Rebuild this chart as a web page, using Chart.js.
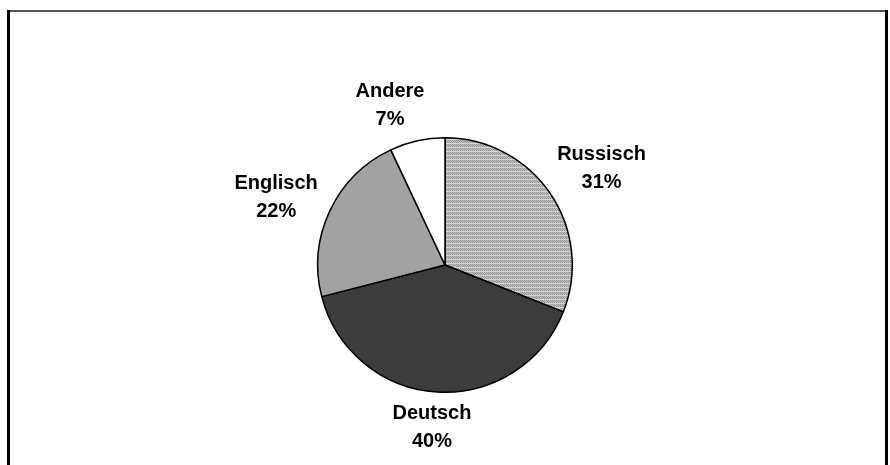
<!DOCTYPE html>
<html>
<head>
<meta charset="utf-8">
<script src="https://cdn.jsdelivr.net/npm/chart.js@4/dist/chart.umd.min.js"></script>
<style>
  html, body { margin: 0; padding: 0; background: #fff; }
  #wrap { width: 890px; height: 465px; }
</style>
</head>
<body>
<div id="wrap"><canvas id="pie" width="890" height="465"></canvas></div>
<script>
const labels = ['Russisch', 'Deutsch', 'Englisch', 'Andere']
const shares = [31, 40, 22, 7]

// fine dotted fill for the first slice
function dotPattern() {
    const c = document.createElement('canvas')
    c.width = 4
    c.height = 4
    const g = c.getContext('2d')
    g.fillStyle = '#c0c0c0'
    g.fillRect(0, 0, 4, 4)
    g.fillStyle = '#969696'
    g.fillRect(0, 0, 1, 1)
    g.fillRect(2, 0, 1, 1)
    g.fillRect(1, 1, 1, 1)
    g.fillRect(3, 1, 1, 1)
    g.fillRect(0, 2, 1, 1)
    g.fillRect(2, 2, 1, 1)
    g.fillStyle = '#d4d4d4'
    g.fillRect(0, 3, 4, 1)
    return g.createPattern(c, 'repeat')
}

const ctx = document.getElementById('pie').getContext('2d')
const fills = [dotPattern(), '#3c3c3c', '#a2a2a2', '#ffffff']

// frame around the whole figure
const framePlugin = {
    id: 'frame',
    beforeDraw(chart) {
        const c = chart.ctx
        c.save()
        c.strokeStyle = '#555'
        c.lineWidth = 2
        c.beginPath()
        c.moveTo(8, 11)
        c.lineTo(887, 11)
        c.stroke()
        c.strokeStyle = '#000'
        c.lineWidth = 3
        c.beginPath()
        c.moveTo(8.5, 10)
        c.lineTo(8.5, 470)
        c.moveTo(886.5, 10)
        c.lineTo(886.5, 470)
        c.stroke()
        c.restore()
    }
}

// name + percent outside each slice; small per-slice nudges keep
// the boxes where the old spreadsheet put them
const nudge = [[4, 7], [-3, 2], [-4, 10], [-19, 2]]
const outsideLabels = {
    id: 'outsideLabels',
    afterDatasetsDraw(chart) {
        const c = chart.ctx
        const meta = chart.getDatasetMeta(0)
        const fontSize = 20
        const lineH = 28
        c.save()
        c.font = 'bold ' + fontSize + 'px "Liberation Sans", Arial, sans-serif'
        c.fillStyle = '#000'
        c.textAlign = 'center'
        c.textBaseline = 'middle'
        meta.data.forEach((arc, i) => {
            const p = arc.getProps(['x', 'y', 'startAngle', 'endAngle', 'outerRadius'], true)
            const mid = (p.startAngle + p.endAngle) / 2
            const dx = Math.cos(mid)
            const dy = Math.sin(mid)
            const lines = [labels[i], shares[i] + '%']
            const w = Math.max(...lines.map(t => c.measureText(t).width))
            const h = lineH + fontSize
            const ext = Math.abs(dx) * w / 2 + Math.abs(dy) * h / 2
            const r = p.outerRadius + 7 + ext
            const cx = p.x + dx * r + nudge[i][0]
            const cy = p.y + dy * r + nudge[i][1]
            c.fillText(lines[0], cx, cy - lineH / 2)
            c.fillText(lines[1], cx, cy + lineH / 2)
        })
        c.restore()
    }
}

new Chart(ctx, {
    type: 'pie',
    data: {
        labels: labels,
        datasets: [{
            data: shares,
            backgroundColor: fills,
            borderColor: '#000',
            borderWidth: 1.5
        }]
    },
    options: {
        responsive: false,
        animation: false,
        layout: { padding: { top: 137, bottom: 72, left: 0, right: 0 } },
        plugins: {
            legend: { display: false },
            tooltip: { enabled: false }
        }
    },
    plugins: [framePlugin, outsideLabels]
})
</script>
</body>
</html>
